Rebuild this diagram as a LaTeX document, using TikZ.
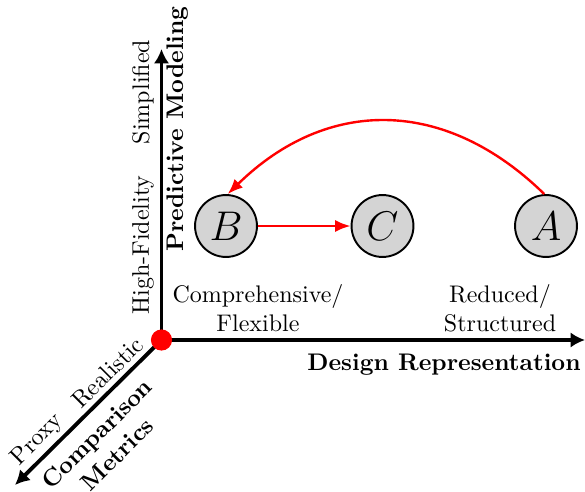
\documentclass[tikz,border=0pt]{standalone}
\usetikzlibrary{arrows.meta}
\begin{document}
\begin{tikzpicture}[x=0.41667pt,y=-0.41667pt,
  axis/.style={line width=1.6pt,-{Latex[length=6pt,width=6.4pt]}},
  redarrow/.style={red,line width=1pt,-{Latex[length=6.4pt,width=5pt]}},
  state/.style={circle,draw,line width=0.8pt,fill=black!17,minimum size=25.8pt,inner sep=0pt,font=\LARGE},
  lbl/.style={inner sep=0pt,align=center},
  blbl/.style={inner sep=0pt,align=center,font=\bfseries}]
\useasboundingbox (0,0) rectangle (585,491);
\coordinate (O) at (161.5,340);
\coordinate (xend) at (585,340);
\coordinate (yend) at (161.5,49);
\coordinate (zend) at (15,485);
\draw[axis] (O) -- (xend);
\draw[axis] (O) -- (yend);
\draw[axis] (O) -- (zend);
\node[circle,fill=red,minimum size=8.8pt,inner sep=0pt] (dot) at (O) {};
% states
\node[state] (B) at (226,226) {$B$};
\node[state] (C) at (382.5,226) {$C$};
\node[state] (A) at (546,226) {$A$};
\draw[redarrow] (B) -- (C);
\draw[redarrow] (A.93) .. controls (445,97) and (327,97) .. (B.87);
% labels x
\node[blbl] (xl) at (444,365) {Design Representation};
\node[lbl] (comp) at (258,308) {Comprehensive/\\Flexible};
\node[lbl] (red) at (500,308) {Reduced/\\Structured};
% labels y
\node[blbl,rotate=90] (yl) at (178,129) {Predictive Modeling};
\node[lbl,rotate=90] (simp) at (143,92) {Simplified};
\node[lbl,rotate=90] (hf) at (143,245) {High-Fidelity};
% labels z
\node[lbl,rotate=45] (real) at (107.5,372.5) {Realistic};
\node[lbl,rotate=45] (prox) at (37.5,440) {Proxy};
\node[blbl,rotate=45] (zl) at (107,444) {Comparison\\Metrics};
\end{tikzpicture}
\end{document}
